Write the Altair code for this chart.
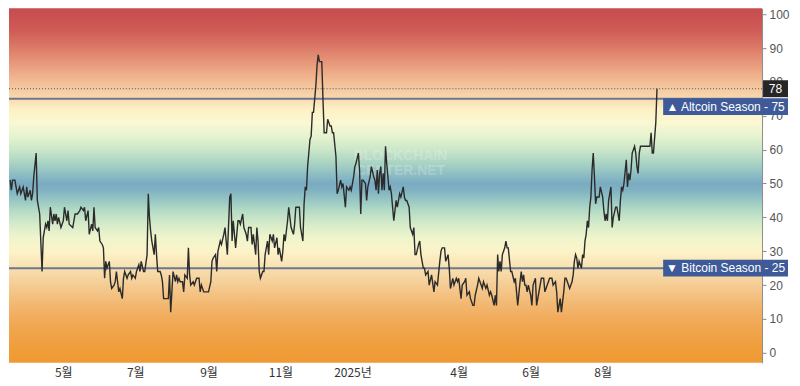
import altair as alt
import pandas as pd

# ---------------- data ----------------
start_date = "2024-03-17"

days_a = [0,1,2,4,6,8,9,11,13,14,15,17,18,19,20,22,23,25,27,28,30,31,32,33,34,36,37,38,39,40,
          41,43,45,46,48,49,50,53,55,57,59,60,62,63,64,66,67,69,70,71,72,74,75,76,78,79,80,81,82,84,
          85,86,88,89,90,92]
vals_a = [51,48,51,51,47,49,47,49,45,49,46,48,45,47,52,59,45,41,24,34,38,37,39,36,43,38,41,39,41,38,
          40,37,39,43,39,42,38,37,41,41,42,43,42,43,39,42,35,38,36,43,37,36,37,33,32,31,22,27,25,27,
          21,19,20,21,24,18]

days_b = [93,95,96,97,99,100,102,103,104,106,107,109,110,111,113,114,116,117,118,119,120,122,123,124,125,
          127,128,129,130,132,134,135,136,137,138,140,141,142,143,144,146,147,148,150,151,152,153,155,156,158,
          160,161,162,164,166,168,170,171,172,174,175,176,178,179,181,182,183,184]
vals_b = [19,16,22,24,22,23,24,22,23,22,24,26,24,27,24,24,29,47,40,36,33,29,35,29,24,
          24,23,21,16,16,16,23,12,18,24,21,23,21,22,21,21,18,23,22,31,23,20,21,20,22,
          22,18,20,18,18,18,21,27,28,29,24,30,33,32,35,37,33,29]

days_c = [186,187,188,189,190,191,193,194,195,197,198,200,201,202,204,205,206,208,209,210,
          211,212,214,215,216,218,219,220,222,223,224,226,227,228,230,231,232,233,235,236,
          237,238,240,241,242,243,245,246,248,249,250,251,252,253,254,255,256,257,259,260,
          261,262,263,264,265,266,268,269,271,272,273,274,276,277]
vals_c = [46,47,33,39,35,31,39,39,38,41,37,35,33,37,37,32,35,29,37,33,
          24,22,24,24,29,33,29,35,33,35,31,34,29,31,27,30,35,33,39,43,
          40,37,35,38,43,43,43,37,33,44,49,48,55,59,63,64,71,71,79,85,
          88,86,86,86,75,65,65,69,67,67,65,65,58,47]

days_d = [278,280,281,282,284,285,287,288,289,291,292,293,295,296,297,298,299,301,302,303,
          305,306,308,309,310,311,312,313,314,315,316,317,318,319,321,322,323,324,325,327,
          328,329,330,331,333,334,335,336,338,339,341,342,343,344,346,347,348,350,
          351,352,354,355,357,359,360,362,364,365]
vals_d = [48,51,49,50,43,49,48,49,48,52,55,56,59,54,41,51,51,50,45,49,
          52,55,52,51,48,54,47,53,55,48,53,48,61,56,48,49,47,43,39,45,
          43,45,47,46,49,46,45,45,43,37,35,37,29,29,32,33,29,25,
          25,23,24,20,23,18,21,20,27,30]

days_e = [366,368,369,371,372,373,375,376,378,379,380,382,383,385,386,387,389,390,392,393,
          394,396,397,399,400,401,403,404,406,407,408,410,411,412,413,414,415,416,417,418,
          419,420,421,422,424,425,427,428,429,430,432,433,434,435,436,437,438,439,441,442,
          443,445,446,448,449,450,452,453,455,456,457,459,460,462]
vals_e = [31,31,27,29,25,19,22,20,22,21,22,16,20,21,22,17,18,16,14,14,
          17,20,22,20,19,21,19,20,17,18,17,14,17,14,29,24,27,24,29,30,
          31,33,31,31,24,24,21,22,18,14,21,24,21,23,20,20,18,20,17,14,
          20,22,14,18,20,22,22,18,20,21,22,22,20,21]

days_f = [463,464,466,467,469,470,471,473,474,476,477,478,479,480,481,482,484,485,486,487,
          488,489,490,491,492,493,494,495,496,497,499,500,502,503,504,505,506,507,508,509,
          510,511,513,514,515,516,517,518,519,520,522,523,524,525,526,527,529,530,531,532,
          533,534,536,537,539,540,542,543,544,545,547,548]
vals_f = [18,12,16,12,18,22,22,20,19,21,23,27,29,28,25,27,25,29,28,33,
          35,39,37,43,46,54,59,52,44,46,46,49,46,42,39,41,39,45,47,49,
          37,40,43,43,41,39,45,49,48,50,57,49,53,51,54,59,61,59,55,53,
          59,61,61,61,61,61,61,65,59,59,68,78]

season_levels = [75, 25]
season_labels = ["▲ Altcoin Season - 75", "▼ Bitcoin Season - 25"]
y_ticks = [0, 10, 20, 30, 40, 50, 60, 70, 80, 90, 100]
x_tick_dates = [(2024, 5), (2024, 7), (2024, 9), (2024, 11), (2025, 1), (2025, 4), (2025, 6), (2025, 8)]
watermark_lines = ["BLOCKCHAIN", "CENTER.NET"]

grad_levels = [101.77, 100, 95, 90, 85, 80, 78, 75, 72, 68, 64, 60, 56, 52, 50, 48, 45, 42,
               38, 34, 30, 27, 24, 20, 15, 10, 5, 0, -2.95]
grad_colors = ["#c74d4e", "#c84f4f", "#cf5d57", "#dc7b68", "#e89c7f", "#f2bd95", "#f4c9a0",
               "#f8dbb0", "#fdf0c4", "#fbf8d3", "#e6f3cf", "#cbe7c9", "#a9d3c3", "#88b9c3",
               "#7aabc1", "#80b2c2", "#98c7c3", "#b4dbc6", "#d6ebc9", "#eff5cc", "#fcf3c9",
               "#fae8ba", "#f7dcaa", "#f5cc94", "#f2ba75", "#f1ab5a", "#f0a246", "#f09c38",
               "#ef9a33"]

# ---------------- build ----------------
day_offsets = days_a + days_b + days_c + days_d + days_e + days_f
index_values = vals_a + vals_b + vals_c + vals_d + vals_e + vals_f
df = pd.DataFrame({
    "date": pd.Timestamp(start_date) + pd.to_timedelta(day_offsets, unit="D"),
    "value": index_values,
})
current = index_values[-1]

W, H = 754, 355
Y_MIN, Y_MAX = -2.95, 101.77
y_scale = alt.Scale(domain=[Y_MIN, Y_MAX], nice=False, zero=False)
x_scale = alt.Scale(domain=[alt.DateTime(year=2024, month=3, date=16),
                            alt.DateTime(year=2025, month=12, date=14)], nice=False)
one = pd.DataFrame({"k": [0]})

x_axis = alt.Axis(
    values=[alt.DateTime(year=y, month=m, date=1) for y, m in x_tick_dates],
    labelExpr="month(datum.value) == 0 ? year(datum.value) + '년' : (month(datum.value) + 1) + '월'",
    title=None, domain=False, ticks=False, grid=False, labelFont="Noto Sans CJK KR",
    labelFontSize=12, labelColor="#333333", labelPadding=5, labelFlush=False,
    labelOverlap=False,
)
y_axis = alt.Axis(
    orient="right", values=y_ticks, title=None, grid=False, domainColor="#8a8a8a",
    tickColor="#8a8a8a", tickSize=4, labelFont="Liberation Sans", labelFontSize=12,
    labelColor="#555555", labelPadding=3, labelOverlap=False, labelFlush=False,
)


def ydat(v):
    return alt.YDatum(v, axis=y_axis, scale=y_scale, type="quantitative")


def y2dat(v):
    return alt.Y2Datum(v)


gradient = alt.Gradient(
    gradient="linear", x1=0, x2=0, y1=0, y2=1,
    stops=[alt.GradientStop(offset=(Y_MAX - lv) / (Y_MAX - Y_MIN), color=c)
           for lv, c in zip(grad_levels, grad_colors)],
)
bg = alt.Chart(one).mark_rect(color=gradient).encode(
    x=alt.value(0), x2=alt.value(W), y=alt.value(0), y2=alt.value(H))

wm = [
    alt.Chart(one).mark_text(text=t, font="Liberation Sans", fontSize=14, fontWeight="bold",
                             color="#ffffff", opacity=0.2, align="center", baseline="middle")
    .encode(x=alt.value(392), y=ydat(lv))
    for t, lv in zip(watermark_lines, [58.1, 53.7])
]

rules = [
    alt.Chart(one).mark_rule(color="#6c7792", strokeWidth=2).encode(y=ydat(lv))
    for lv in season_levels
]
cur_rule = alt.Chart(one).mark_rule(color="#555555", strokeWidth=1, strokeDash=[1, 2]).encode(
    y=ydat(current))

line = alt.Chart(df).mark_line(color="#2b2b2b", strokeWidth=1.4, clip=True).encode(
    x=alt.X("date:T", scale=x_scale, axis=x_axis),
    y=alt.Y("value:Q", scale=y_scale, axis=y_axis),
)

BOX_X0, BOX_X1 = 655, 780
box_spans = [(75.2, 70.2), (27.5, 22.5)]
boxes = []
for (top, bot), label in zip(box_spans, season_labels):
    boxes.append(alt.Chart(one).mark_rect(color="#3e5a99").encode(
        x=alt.value(BOX_X0), x2=alt.value(BOX_X1), y=ydat(top), y2=y2dat(bot)))
    boxes.append(alt.Chart(one).mark_text(text=label, color="white", font="Liberation Sans",
                                          fontSize=12, align="center", baseline="middle").encode(
        x=alt.value((BOX_X0 + BOX_X1) / 2), y=ydat((top + bot) / 2)))

cur_box = alt.Chart(one).mark_rect(color="#262626").encode(
    x=alt.value(755), x2=alt.value(780), y=ydat(current + 2.5), y2=y2dat(current - 2.5))
cur_text = alt.Chart(one).mark_text(text=str(current), color="white", font="Liberation Sans",
                                    fontSize=12, align="center", baseline="middle").encode(
    x=alt.value(767.5), y=ydat(current))

chart = alt.layer(bg, *wm, *rules, cur_rule, line, *boxes, cur_box, cur_text).properties(
    width=W, height=H, padding={"left": 0, "top": 0, "right": 2, "bottom": 2},
).configure_view(strokeWidth=0)

chart.save("out.html", embed_options={"renderer": "svg", "actions": False})
